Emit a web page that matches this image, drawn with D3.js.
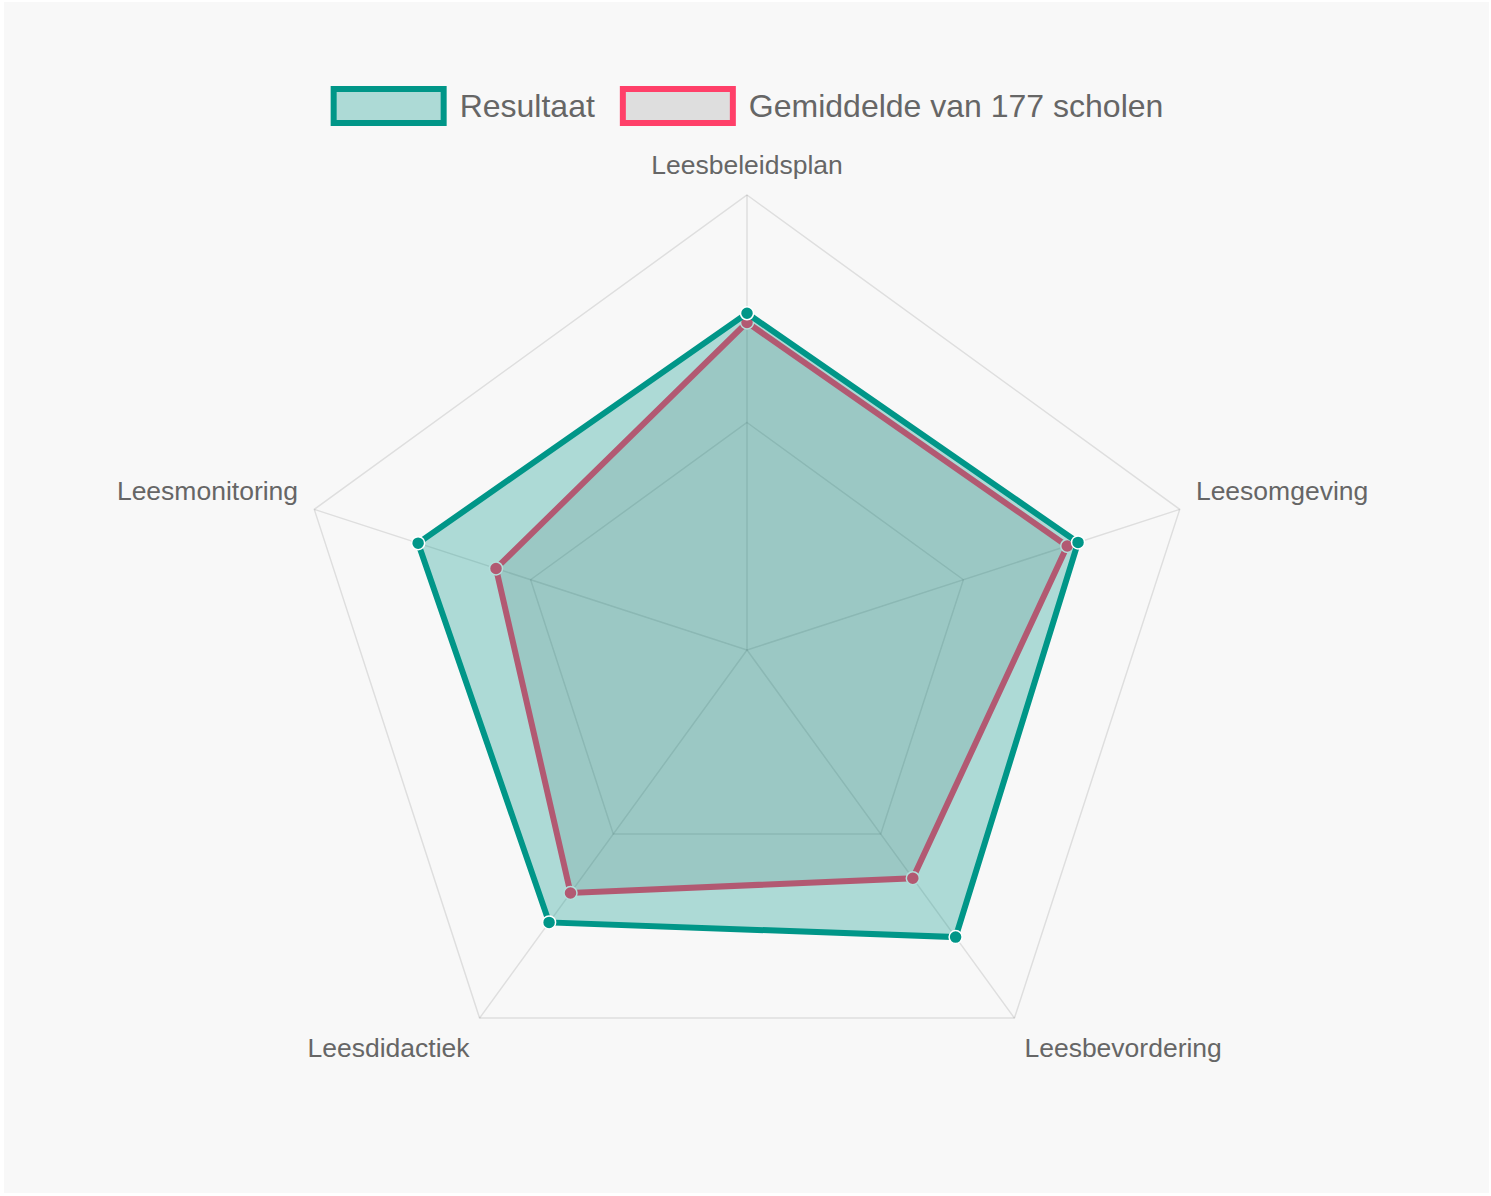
<!DOCTYPE html>
<html>
<head>
<meta charset="utf-8">
<script src="https://cdn.jsdelivr.net/npm/d3@7"></script>
<style>
	html, body { margin: 0; padding: 0; background: #fff; }
	svg { display: block; }
	text { font-family: "Liberation Sans", Helvetica, Arial, sans-serif; fill: #666; }
</style>
</head>
<body>
<div id="chart"></div>
<script>
var axes = ["Leesbeleidsplan", "Leesomgeving", "Leesbevordering", "Leesdidactiek", "Leesmonitoring"];
var resultaat = [74, 76.5, 78, 74, 76];
var gemiddelde = [72, 74, 62, 66, 58];
var gridLevels = [50, 100];
var seriesNames = ["Resultaat", "Gemiddelde van 177 scholen"];

var width = 1491, height = 1196;
var cx = 747, cy = 650, radius = 455;

var series = [
	{ name: seriesNames[0], values: resultaat, stroke: "#009688", fill: "rgba(0,150,136,0.3)" },
	{ name: seriesNames[1], values: gemiddelde, stroke: "#ff4069", fill: "rgba(0,0,0,0.1)" }
];

var svg = d3.select("#chart").append("svg")
	.attr("width", width)
	.attr("height", height);

svg.append("rect")
	.attr("x", 4).attr("y", 2)
	.attr("width", 1485).attr("height", 1191)
	.attr("fill", "#f8f8f8");

var r = d3.scaleLinear().domain([0, 100]).range([0, radius]);
var angle = d3.scalePoint().domain(axes).range([0, 2 * Math.PI * (axes.length - 1) / axes.length]);

function point(name, v) {
	var a = angle(name);
	return [cx + r(v) * Math.sin(a), cy - r(v) * Math.cos(a)];
}

var g = svg.append("g");

// grid rings
g.selectAll("polygon.grid")
		.data(gridLevels)
	.enter().append("polygon")
		.attr("class", "grid")
		.attr("points", function (lv) { return axes.map(function (ax) { return point(ax, lv).join(","); }).join(" "); })
		.attr("fill", "none")
		.attr("stroke", "rgba(0,0,0,0.1)")
		.attr("stroke-width", 1.5);

// angle lines
g.selectAll("line.spoke")
		.data(axes)
	.enter().append("line")
		.attr("class", "spoke")
		.attr("x1", cx).attr("y1", cy)
		.attr("x2", function (ax) { return point(ax, 100)[0]; })
		.attr("y2", function (ax) { return point(ax, 100)[1]; })
		.attr("stroke", "rgba(0,0,0,0.1)")
		.attr("stroke-width", 1.5);

// point labels
var labelR = 100 * (radius + 17) / radius;
g.selectAll("text.axis-label")
		.data(axes)
	.enter().append("text")
		.attr("class", "axis-label")
		.attr("font-size", 26.5)
		.attr("dominant-baseline", "central")
		.attr("x", function (ax) { return point(ax, labelR)[0]; })
		.attr("y", function (ax) {
			var a = angle(ax);
			var y = point(ax, labelR)[1];
			return Math.cos(a) > 0 ? y - 13 : y + 16;
		})
		.attr("text-anchor", function (ax) {
			var s = Math.sin(angle(ax));
			return Math.abs(s) < 1e-6 ? "middle" : (s > 0 ? "start" : "end");
		})
		.text(function (ax) { return ax; });

// datasets, last one drawn first
series.slice().reverse().forEach(function (s) {
	var pts = axes.map(function (ax, i) { return point(ax, s.values[i]); });
	g.append("polygon")
		.attr("points", pts.map(function (p) { return p.join(","); }).join(" "))
		.attr("fill", s.fill)
		.attr("stroke", s.stroke)
		.attr("stroke-width", 6)
		.attr("stroke-linejoin", "miter");
	g.selectAll(null)
			.data(pts)
		.enter().append("circle")
			.attr("cx", function (p) { return p[0]; })
			.attr("cy", function (p) { return p[1]; })
			.attr("r", 6.5)
			.attr("fill", s.stroke)
			.attr("stroke", "#fff")
			.attr("stroke-width", 1.5);
});

// legend
var legend = svg.append("g");
var x = 0;
var items = legend.selectAll("g.item")
		.data(series)
	.enter().append("g")
		.attr("class", "item");

items.append("rect")
	.attr("x", 3).attr("y", 89)
	.attr("width", 110).attr("height", 34)
	.attr("fill", function (d) { return d.fill; })
	.attr("stroke", function (d) { return d.stroke; })
	.attr("stroke-width", 6);

items.append("text")
	.attr("x", 129).attr("y", 106)
	.attr("font-size", 32)
	.attr("dominant-baseline", "central")
	.text(function (d) { return d.name; });

items.each(function () {
	var item = d3.select(this);
	item.attr("transform", "translate(" + x + ",0)");
	x += 129 + item.select("text").node().getComputedTextLength() + 25;
});
var total = x - 25;
legend.attr("transform", "translate(" + (cx - total / 2) + ",0)");
</script>
</body>
</html>
